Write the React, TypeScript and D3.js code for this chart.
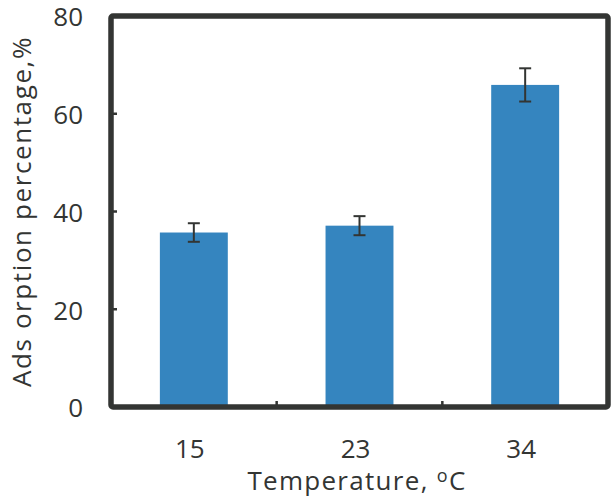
import React from 'react';
import * as d3 from 'd3';

const temperatures = ['15', '23', '34'];
const adsorption = [35.7, 37.1, 65.9];
const errors = [1.9, 1.95, 3.4];
const yTicks = [0, 20, 40, 60, 80];

const W = 615;
const H = 498;
const margin = { top: 16, right: 7, bottom: 91, left: 111 };
const ink = '#333533';
const barColor = '#3585bf';
const font = '"Open Sans", "Noto Sans", sans-serif';

const App: React.FC = () => {
    const x = d3.scaleBand<string>()
        .domain(temperatures)
        .range([margin.left, W - margin.right])
        .padding(0);

    const y = d3.scaleLinear()
        .domain([0, 80])
        .range([H - margin.bottom, margin.top]);

    const barW = x.bandwidth() * 0.41;
    const x0 = margin.left;
    const x1 = W - margin.right;
    const y0 = y(0);
    const y1 = y(80);

    return (
        <svg width={W} height={H} style={{ position: 'absolute', left: 0, top: 0 }} fontFamily={font}>
            <rect width={W} height={H} fill="#fff" />

            {/* bars */}
            {temperatures.map((t, i) => {
                const cx = (x(t) as number) + x.bandwidth() / 2;
                return (
                    <g key={t}>
                        <rect x={cx - barW / 2} y={y(adsorption[i])} width={barW}
                            height={y0 - y(adsorption[i])} fill={barColor} />
                        <line x1={cx} x2={cx} y1={y(adsorption[i] + errors[i])} y2={y(adsorption[i] - errors[i])}
                            stroke={ink} strokeWidth={2} />
                        <line x1={cx - 6} x2={cx + 6} y1={y(adsorption[i] + errors[i])} y2={y(adsorption[i] + errors[i])}
                            stroke={ink} strokeWidth={2} />
                        <line x1={cx - 6} x2={cx + 6} y1={y(adsorption[i] - errors[i])} y2={y(adsorption[i] - errors[i])}
                            stroke={ink} strokeWidth={2} />
                    </g>
                );
            })}

            {/* inward ticks */}
            {yTicks.slice(1, -1).map(v => (
                <line key={v} x1={x0} x2={x0 + 6} y1={y(v)} y2={y(v)} stroke={ink} strokeWidth={2.5} />
            ))}
            {temperatures.slice(1).map(t => (
                <line key={t} x1={x(t) as number} x2={x(t) as number} y1={y0} y2={y0 - 6} stroke={ink} strokeWidth={2.5} />
            ))}

            {/* frame */}
            <rect x={x0} y={y1} width={x1 - x0} height={y0 - y1} fill="none" stroke={ink} strokeWidth={5.5} rx={2} />

            {/* y tick labels */}
            {yTicks.map(v => (
                <text key={v} x={83} y={y(v) + 1} dy="0.36em" textAnchor="end" fontSize={26} fill={ink}>{v}</text>
            ))}

            {/* x tick labels */}
            {temperatures.map(t => (
                <text key={t} x={(x(t) as number) + x.bandwidth() / 2 - 4} y={458} textAnchor="middle" fontSize={26} fill={ink}>{t}</text>
            ))}

            {/* axis titles */}
            <text x={357} y={490} textAnchor="middle" fontSize={26} letterSpacing={1.3} fill={ink}>
                Temperature, <tspan fontSize={18} dy={-8}>o</tspan><tspan dy={8}>C</tspan>
            </text>
            <text transform={`translate(31,${(y0 + y1) / 2}) rotate(-90)`} textAnchor="middle" fontSize={26} letterSpacing={1.6} fill={ink}>
                Ads orption percentage,%
            </text>
        </svg>
    );
};

export default App;
